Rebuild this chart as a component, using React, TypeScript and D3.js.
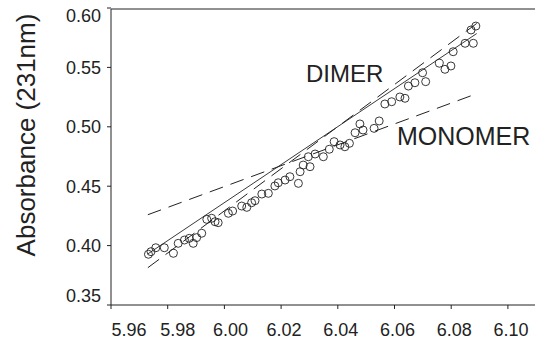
import React from 'react';
import * as d3 from 'd3';

const W = 535;
const H = 345;

// measured absorbance points (pH vs A231)
const phValues = [
  5.9732, 5.9741, 5.9758, 5.9788, 5.982, 5.9837, 5.9859, 5.9876, 5.989, 5.9902,
  5.992, 5.9938, 5.9955, 5.9967, 5.9978, 6.0014, 6.0029, 6.0061, 6.0079, 6.0096,
  6.0108, 6.0132, 6.0155, 6.0178, 6.019, 6.0214, 6.0231, 6.0261, 6.0267, 6.0278,
  6.0302, 6.0296, 6.032, 6.0349, 6.037, 6.0387, 6.0408, 6.0425, 6.0441, 6.0461,
  6.0478, 6.0489, 6.0528, 6.0546, 6.0566, 6.059, 6.0619, 6.0637, 6.0649, 6.0672,
  6.071, 6.0699, 6.0758, 6.0778, 6.0799, 6.0807, 6.0849, 6.0878, 6.087, 6.0887,
];
const absValues = [
  0.3927, 0.3949, 0.3982, 0.3982, 0.3935, 0.4019, 0.4047, 0.4061, 0.4019, 0.4067,
  0.4104, 0.4221, 0.423, 0.4201, 0.4193, 0.4272, 0.4291, 0.4333, 0.4322, 0.4361,
  0.4378, 0.4434, 0.444, 0.4502, 0.4529, 0.4552, 0.458, 0.4524, 0.4622, 0.4678,
  0.4664, 0.4748, 0.4771, 0.4748, 0.4811, 0.4875, 0.4847, 0.4832, 0.4861, 0.495,
  0.5024, 0.4973, 0.4987, 0.5049, 0.5192, 0.5211, 0.5251, 0.524, 0.5343, 0.5371,
  0.538, 0.5455, 0.5535, 0.5484, 0.5512, 0.5632, 0.5703, 0.5703, 0.5815, 0.5848,
];

// model lines
const dimerFit: [number, number][] = [[5.973, 0.393], [6.089, 0.5785]];
const dimerModel: [number, number][] = [[5.973, 0.3814], [6.089, 0.587]];
const monomerModel: [number, number][] = [[5.973, 0.426], [6.088, 0.527]];

const xTicks = [5.96, 5.98, 6.0, 6.02, 6.04, 6.06, 6.08, 6.1];
const yTicks = [0.35, 0.4, 0.45, 0.5, 0.55, 0.6];

const font = 'Arial, "Liberation Sans", Helvetica, sans-serif';

export default function App() {
  const x = d3.scaleLinear().domain([5.96, 6.12]).range([111, 564.6]);
  const y = d3.scaleLinear().domain([0.35, 0.6]).range([305, 8]);
  const line = d3.line<[number, number]>().x(d => x(d[0])).y(d => y(d[1]));
  const ink = '#222';
  const last = yTicks.length - 1;

  return (
    <svg width={W} height={H} style={{ position: 'fixed', left: 0, top: 0, background: '#fff' }}
      fontFamily={font}>
      {/* frame */}
      <line x1={111} x2={W} y1={y(0.35)} y2={y(0.35)} stroke={ink} strokeWidth={1} />
      <line x1={111} x2={W} y1={y(0.6) + 1} y2={y(0.6) + 1} stroke={ink} strokeWidth={1} />
      <line x1={111} x2={111} y1={y(0.6) + 1} y2={y(0.35)} stroke={ink} strokeWidth={1} />

      {yTicks.map((t, i) => (
        <g key={t}>
          <line x1={107} x2={111} y1={y(t)} y2={y(t)} stroke={ink} />
          <text x={101} y={y(t) + (i === 0 ? -9 : i === last ? 8 : 0)} dy="0.36em"
            textAnchor="end" fontSize={18} fill={ink}>
            {d3.format('.2f')(t)}
          </text>
        </g>
      ))}
      {xTicks.map((t, i) => (
        <g key={t}>
          <line x1={x(t)} x2={x(t)} y1={305} y2={309} stroke={ink} />
          <text x={x(t) + (i === 0 ? 18 : i === 1 ? 10 : i === 2 ? 6 : 3)} y={336}
            textAnchor="middle" fontSize={18} fill={ink}>
            {d3.format('.2f')(t)}
          </text>
        </g>
      ))}

      <text transform={`translate(35,${135}) rotate(-90)`} textAnchor="middle" fontSize={26} fill={ink}>
        Absorbance (231nm)
      </text>

      {/* fits */}
      <path d={line(monomerModel) ?? ''} fill="none" stroke={ink} strokeWidth={1} strokeDasharray="14 8" />
      <path d={line(dimerModel) ?? ''} fill="none" stroke={ink} strokeWidth={1} strokeDasharray="14 8" />
      <path d={line(dimerFit) ?? ''} fill="none" stroke={ink} strokeWidth={0.9} />

      {phValues.map((p, i) => (
        <circle key={i} cx={x(p)} cy={y(absValues[i])} r={4} fill="none" stroke={ink} strokeWidth={0.9} />
      ))}

      <text x={306} y={82} fontSize={24} fill={ink}>DIMER</text>
      <text x={397} y={145} fontSize={25} fill={ink}>MONOMER</text>
    </svg>
  );
}
